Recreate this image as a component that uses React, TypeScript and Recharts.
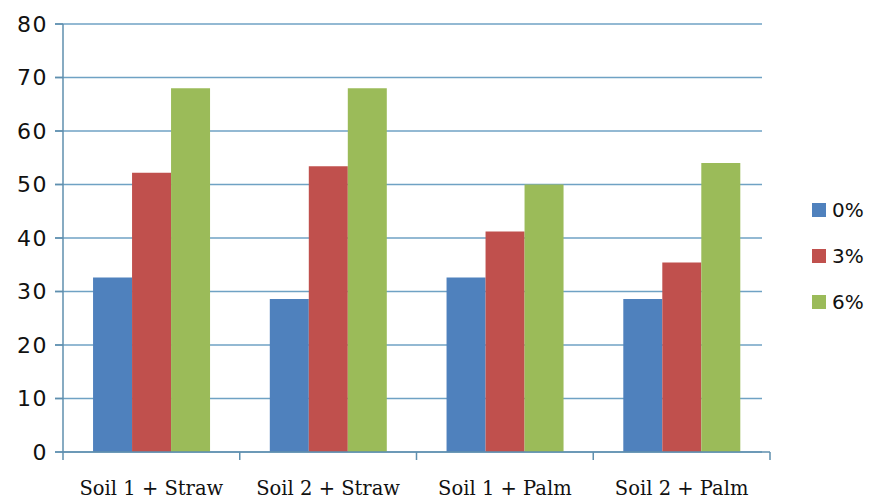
import React from "react";
import { BarChart, Bar, XAxis, YAxis, CartesianGrid } from "recharts";

const categories = ["Soil 1 + Straw", "Soil 2 + Straw", "Soil 1 + Palm", "Soil 2 + Palm"];
const series0 = [32.6, 28.6, 32.6, 28.6];
const series3 = [52.2, 53.4, 41.2, 35.4];
const series6 = [68.0, 68.0, 50.0, 54.0];
const seriesNames = ["0%", "3%", "6%"];
const seriesColors = ["#4f81bd", "#c0504d", "#9bbb59"];
const yTicks = [0, 10, 20, 30, 40, 50, 60, 70, 80];

const data = categories.map((c, i) => ({
  name: c,
  s0: series0[i],
  s3: series3[i],
  s6: series6[i],
}));

const AXIS = "#5f8fae";

const XTick = (props: any) => {
  const { x, y, payload, index, visibleTicksCount } = props;
  const off = payload.offset || 0;
  const isLast = index === visibleTicksCount - 1;
  return (
    <g>
      <line x1={x - off} x2={x - off} y1={y - 8} y2={y} stroke={AXIS} strokeWidth={1.5} />
      {isLast && <line x1={x + off} x2={x + off} y1={y - 8} y2={y} stroke={AXIS} strokeWidth={1.5} />}
      <text x={x} y={y + 35} textAnchor="middle" fontFamily="'DejaVu Serif', serif" fontSize={19.5} fill="#111">
        {payload.value}
      </text>
    </g>
  );
};

export default function App() {
  return (
    <div style={{ position: "absolute", left: 0, top: 0, width: 870, height: 501, background: "#fff" }}>
      <BarChart
        width={870}
        height={501}
        data={data}
        margin={{ top: 24, right: 100, bottom: 0, left: 0 }}
        barCategoryGap="17%"
        barGap={0}
      >
        <CartesianGrid vertical={false} stroke="#6fa2c4" strokeWidth={1.5} x={55} />
        <XAxis
          dataKey="name"
          axisLine={{ stroke: AXIS, strokeWidth: 1.5 }}
          tickLine={false}
          tick={<XTick />}
          interval={0}
          height={49}
        />
        <YAxis
          domain={[0, 80]}
          ticks={yTicks}
          width={63}
          tickSize={8}
          tickMargin={7}
          axisLine={{ stroke: AXIS, strokeWidth: 1.5 }}
          tickLine={{ stroke: AXIS, strokeWidth: 1.5 }}
          tick={{ fontFamily: "'DejaVu Sans', sans-serif", fontSize: 22, fill: "#111", letterSpacing: 1.5 }}
        />
        <Bar dataKey="s0" name={seriesNames[0]} fill={seriesColors[0]} isAnimationActive={false} />
        <Bar dataKey="s3" name={seriesNames[1]} fill={seriesColors[1]} isAnimationActive={false} />
        <Bar dataKey="s6" name={seriesNames[2]} fill={seriesColors[2]} isAnimationActive={false} />
      </BarChart>
      <div
        style={{
          position: "absolute",
          left: 812,
          top: 187,
          fontFamily: "'DejaVu Sans', sans-serif",
          fontSize: 20,
          color: "#111",
        }}
      >
        {seriesNames.map((n, i) => (
          <div key={n} style={{ display: "flex", alignItems: "center", height: 46 }}>
            <span style={{ display: "inline-block", width: 14, height: 14, background: seriesColors[i], marginRight: 6 }} />
            <span>{n}</span>
          </div>
        ))}
      </div>
    </div>
  );
}
